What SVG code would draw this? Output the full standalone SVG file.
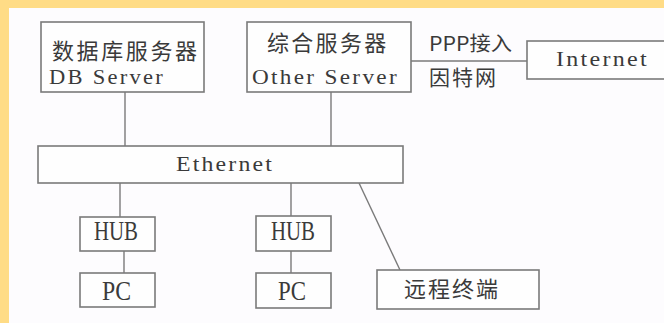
<svg xmlns="http://www.w3.org/2000/svg" width="664" height="323" viewBox="0 0 664 323">
<style>
.box{fill:#fefefe;stroke:#7a7a7a;stroke-width:1.6}
.ln{stroke:#7a7a7a;stroke-width:1.4;fill:none}
.cj{font-family:"Noto Sans CJK SC","Liberation Serif",serif;fill:#3a3a3a}
.en{font-family:"Liberation Serif","DejaVu Serif",serif;fill:#3a3a3a;letter-spacing:2px}
.big{font-family:"Liberation Serif","DejaVu Serif",serif;fill:#3a3a3a;font-size:28px}
</style>
<rect x="0" y="0" width="664" height="323" fill="#FFDC86"/>
<rect x="9" y="8" width="655" height="315" fill="#FDFCFE"/>
<g id="connectors">
<line class="ln" x1="125" y1="92" x2="125" y2="146"/>
<line class="ln" x1="331" y1="92" x2="331" y2="146"/>
<line class="ln" x1="411" y1="61" x2="527" y2="61"/>
<line class="ln" x1="120" y1="183" x2="120" y2="217"/>
<line class="ln" x1="124" y1="251" x2="124" y2="273"/>
<line class="ln" x1="291" y1="183" x2="291" y2="216"/>
<line class="ln" x1="291" y1="251" x2="291" y2="273"/>
<line class="ln" x1="359" y1="183" x2="400" y2="270"/>
<text class="cj" x="429" y="51" font-size="20" textLength="83" lengthAdjust="spacingAndGlyphs">PPP接入</text>
<text class="cj" x="429" y="85" font-size="21" letter-spacing="2">因特网</text>
</g>
<g id="db-server">
<rect class="box" x="41" y="22" width="163" height="70"/>
<text class="cj" x="52" y="59" font-size="22" letter-spacing="2.6">数据库服务器</text>
<text class="en" x="49" y="84" font-size="20" textLength="116" lengthAdjust="spacingAndGlyphs">DB Server</text>
</g>
<g id="other-server">
<rect class="box" x="247" y="22" width="164" height="70"/>
<text class="cj" x="267" y="51" font-size="22" letter-spacing="2.3">综合服务器</text>
<text class="en" x="252" y="84" font-size="20" textLength="147" lengthAdjust="spacingAndGlyphs">Other Server</text>
</g>
<g id="internet">
<rect class="box" x="527" y="41" width="145" height="38"/>
<text class="en" x="556" y="66" font-size="21" textLength="93" lengthAdjust="spacingAndGlyphs">Internet</text>
</g>
<g id="ethernet">
<rect class="box" x="38" y="146" width="365" height="37"/>
<text class="en" x="176" y="171" font-size="22" textLength="98" lengthAdjust="spacingAndGlyphs">Ethernet</text>
</g>
<g id="hub1">
<rect class="box" x="80" y="217" width="75" height="34"/>
<text class="big" x="94" y="240" textLength="44" lengthAdjust="spacingAndGlyphs">HUB</text>
</g>
<g id="pc1">
<rect class="box" x="80" y="273" width="75" height="34"/>
<text class="big" x="102" y="300" textLength="29" lengthAdjust="spacingAndGlyphs">PC</text>
</g>
<g id="hub2">
<rect class="box" x="256" y="216" width="75" height="35"/>
<text class="big" x="271" y="240" textLength="44" lengthAdjust="spacingAndGlyphs">HUB</text>
</g>
<g id="pc2">
<rect class="box" x="256" y="273" width="75" height="35"/>
<text class="big" x="278" y="300" textLength="28" lengthAdjust="spacingAndGlyphs">PC</text>
</g>
<g id="remote-terminal">
<rect class="box" x="377" y="270" width="162" height="39"/>
<text class="cj" x="404" y="297" font-size="22" letter-spacing="2">远程终端</text>
</g>
</svg>
